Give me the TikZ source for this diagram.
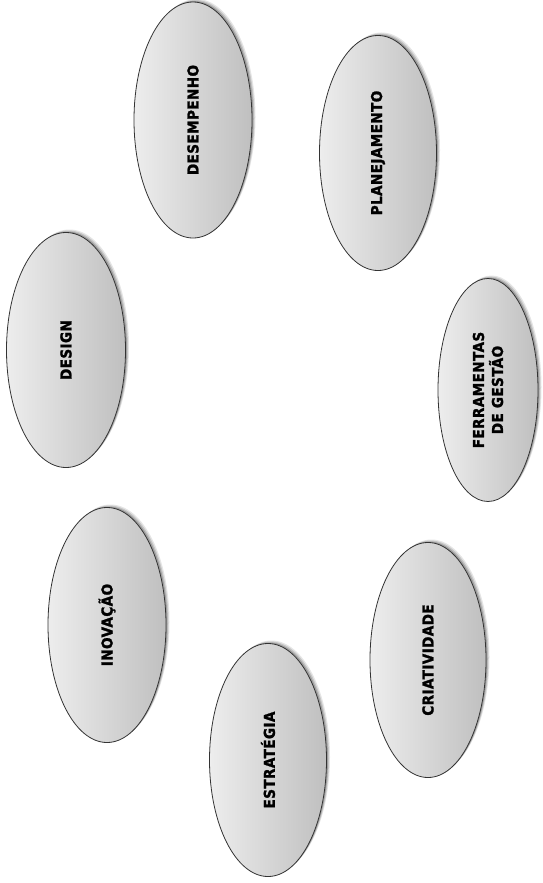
\documentclass[tikz,border=0pt]{standalone}
\usepackage{fontspec}
\newfontfamily\lblfont{DejaVu Sans Condensed}[LetterSpace=3, BoldFeatures={FakeBold=1.6}]
\usetikzlibrary{shapes.geometric,shadows}
\tikzset{
  oval/.style={ellipse, draw=black!80, line width=0.8pt, inner sep=0pt, rotate=90,
    left color=black!7, right color=black!25,
    drop shadow={shadow xshift=3.5pt, shadow yshift=3pt, opacity=0.10, fill=black},
    drop shadow={shadow xshift=2.5pt, shadow yshift=2pt, opacity=0.14, fill=black},
    drop shadow={shadow xshift=1.5pt, shadow yshift=1pt, opacity=0.2, fill=black},
    font=\lblfont\bfseries\fontsize{15}{19}\selectfont, align=center, text=black}
}
\begin{document}
\begin{tikzpicture}[x=1pt,y=-1pt]
\useasboundingbox (0,0) rectangle (542,883);
\node[oval, minimum width=236pt, minimum height=118pt] (desempenho) at (193,120) {DESEMPENHO};
\node[oval, minimum width=235pt, minimum height=117pt] (planejamento) at (378,153) {PLANEJAMENTO};
\node[oval, minimum width=235pt, minimum height=119pt] (design) at (66,350) {DESIGN};
\node[oval, minimum width=223pt, minimum height=100pt] (ferramentas) at (488,390) {FERRAMENTAS\\DE GESTÃO};
\node[oval, minimum width=235pt, minimum height=118pt] (inovacao) at (107,625) {INOVAÇÃO};
\node[oval, minimum width=235pt, minimum height=116pt] (criatividade) at (428,660) {CRIATIVIDADE};
\node[oval, minimum width=233pt, minimum height=117pt] (estrategia) at (268,760) {ESTRATÉGIA};
\end{tikzpicture}
\end{document}
